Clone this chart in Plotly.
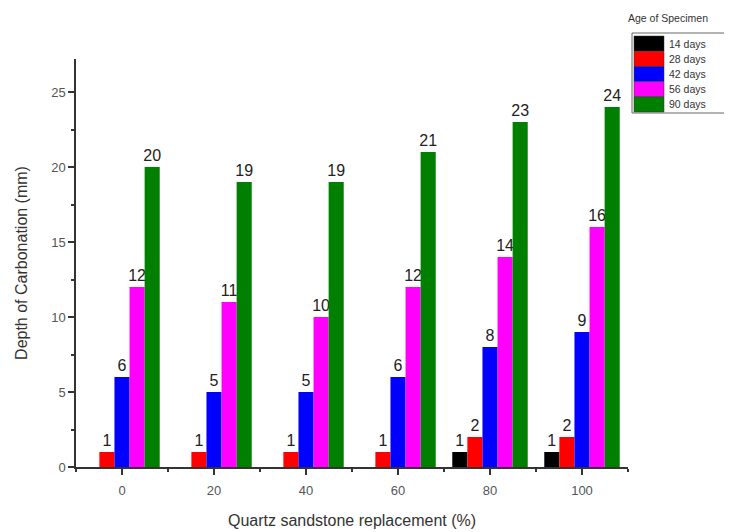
import plotly.graph_objects as go

replacement = [0, 20, 40, 60, 80, 100]
series_names = ["14 days", "28 days", "42 days", "56 days", "90 days"]
days14 = [0, 0, 0, 0, 1, 1]
days28 = [1, 1, 1, 1, 2, 2]
days42 = [6, 5, 5, 6, 8, 9]
days56 = [12, 11, 10, 12, 14, 16]
days90 = [20, 19, 19, 21, 23, 24]
colors = ["#000000", "#ff0000", "#0000ff", "#ff00ff", "#007f00"]
y_ticks = [0, 5, 10, 15, 20, 25]

all_series = [days14, days28, days42, days56, days90]
font = "Liberation Sans, Arial, sans-serif"

fig = go.Figure()
for name, vals, col in zip(series_names, all_series, colors):
    fig.add_trace(go.Bar(
        x=replacement, y=vals, name=name,
        marker=dict(color=col, line=dict(width=0)),
        text=[str(v) if v > 0 else "" for v in vals],
        textposition="outside",
        constraintext="none",
        textfont=dict(size=16, color="#222222", family=font),
        cliponaxis=False,
        showlegend=False,
    ))

W, H = 732, 532
OFF = 8  # page body offset
# desired plot area in screen pixels
sx_left, sx_right, sy_top, sy_bottom = 76, 628, 59, 467
l = sx_left - OFF
t = sy_top - OFF
r = W - (sx_right - OFF)
b = H - (sy_bottom - OFF)
pw, ph = W - l - r, H - t - b

def px2paper(px, py):
    fx, fy = px - OFF, py - OFF
    return (fx - l) / pw, (H - b - fy) / ph

# Custom legend (Origin style), positions in screen pixels
box_x0, box_y0 = 632, 33
row_h = 15.2
shapes = []
annotations = []
bx0, by0 = px2paper(box_x0, box_y0)
bx1, by1 = px2paper(745, box_y0 + 5 * row_h + 4)
shapes.append(dict(type="rect", xref="paper", yref="paper",
                   x0=bx0, x1=bx1, y0=by1, y1=by0,
                   line=dict(color="#666666", width=1), fillcolor="white"))
for i, (name, col) in enumerate(zip(series_names, colors)):
    top = box_y0 + 3 + i * row_h
    sx0, sy0 = px2paper(box_x0 + 2, top)
    sx1, sy1 = px2paper(box_x0 + 32, top + row_h)
    shapes.append(dict(type="rect", xref="paper", yref="paper",
                       x0=sx0, x1=sx1, y0=sy1, y1=sy0,
                       line=dict(color="#333333", width=0.5), fillcolor=col))
    tx, ty = px2paper(box_x0 + 35, top + row_h / 2)
    annotations.append(dict(xref="paper", yref="paper", x=tx, y=ty,
                            text=name, showarrow=False, xanchor="left",
                            yanchor="middle",
                            font=dict(size=10.5, color="#333333", family=font)))
tx, ty = px2paper(626, 18)
annotations.append(dict(xref="paper", yref="paper", x=tx, y=ty,
                        text="Age of Specimen", showarrow=False,
                        xanchor="left", yanchor="middle",
                        font=dict(size=10.5, color="#333333", family=font)))

fig.update_layout(
    width=W, height=H,
    margin=dict(l=l, r=r, t=t, b=b, autoexpand=False),
    paper_bgcolor="white", plot_bgcolor="white",
    barmode="group", bargap=0.18, bargroupgap=0,
    font=dict(family=font, color="#444444"),
    shapes=shapes, annotations=annotations,
    xaxis=dict(
        range=[-10, 110], tickvals=replacement,
        ticktext=[str(v) for v in replacement],
        automargin=False,
        showline=True, linecolor="#333333", linewidth=1.5,
        ticks="outside", ticklen=6, tickcolor="#333333", tickwidth=1.5,
        ticklabelstandoff=5,
        minor=dict(dtick=10, tick0=0, ticks="outside", ticklen=3, tickcolor="#333333"),
        showgrid=False, zeroline=False,
        tickfont=dict(size=13, color="#555555"),
        title=dict(text="Quartz sandstone replacement (%)",
                   font=dict(size=16, color="#333333"), standoff=17),
    ),
    yaxis=dict(
        range=[0, 27.2], tickvals=y_ticks,
        automargin=False,
        showline=True, linecolor="#333333", linewidth=1.5,
        ticks="outside", ticklen=6, tickcolor="#333333", tickwidth=1.5,
        minor=dict(dtick=2.5, tick0=0, ticks="outside", ticklen=3, tickcolor="#333333"),
        showgrid=False, zeroline=False,
        tickfont=dict(size=13, color="#555555"),
        title=dict(text="Depth of Carbonation (mm)",
                   font=dict(size=16, color="#333333"), standoff=20),
    ),
)

fig.write_html("out.html")
